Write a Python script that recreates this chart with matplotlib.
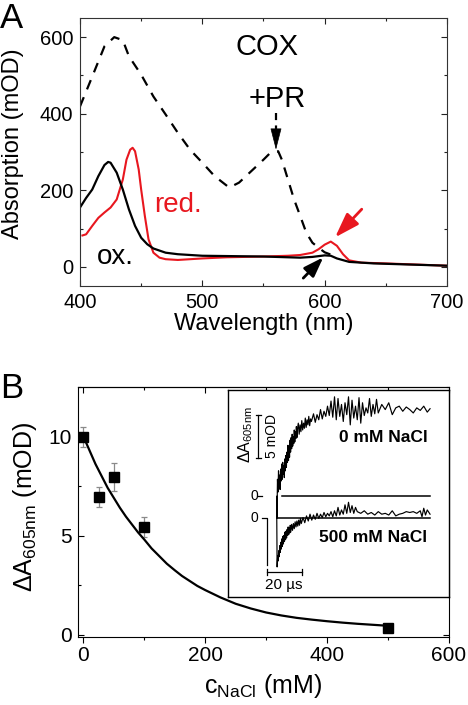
import matplotlib
matplotlib.use("Agg")
import matplotlib.pyplot as plt
from matplotlib.ticker import MultipleLocator

plt.rcParams['font.family'] = ['Liberation Sans', 'DejaVu Sans']
plt.rcParams['mathtext.fontset'] = 'custom'
plt.rcParams['mathtext.rm'] = 'Liberation Sans'
plt.rcParams['mathtext.it'] = 'Liberation Sans'
plt.rcParams['mathtext.bf'] = 'Liberation Sans:bold'

# ---------------- Panel A data ----------------
pr_wl = [400, 410, 420, 428, 435, 440, 450, 460, 470, 480, 490, 500, 510, 522, 530,
         540, 550, 555, 562, 565, 570, 575, 580, 585, 590, 595, 600, 605]
pr_abs = [419, 497, 576, 600, 592, 550, 502, 445, 398, 350, 306, 272, 237, 207, 220,
          250, 280, 296, 302, 280, 228, 176, 133, 89, 63, 50, 38, 32]

ox_wl = [400, 405, 410, 415, 420, 423, 425, 430, 435, 440, 445, 450, 455, 460, 470,
         480, 500, 550, 580, 590, 600, 605, 610, 620, 640, 660, 700]
ox_abs = [155, 180, 202, 237, 266, 274, 272, 246, 202, 150, 107, 76, 59, 48, 37,
          33, 29, 27, 24, 26, 30, 29, 22, 13, 9, 7, 3]

red_wl = [402, 405, 410, 415, 420, 425, 430, 435, 438, 441, 443, 445, 448, 450, 453,
          456, 460, 465, 470, 480, 500, 520, 550, 570, 580, 590, 595, 600, 605, 610,
          615, 620, 630, 650, 700]
red_abs = [82, 85, 107, 128, 142, 155, 176, 228, 280, 306, 311, 302, 254, 202, 133,
           72, 37, 24, 20, 18, 22, 25, 27, 29, 31, 37, 46, 58, 66, 55,
           33, 17, 11, 9, 3]

# ---------------- Panel B data ----------------
nacl = [0, 25, 50, 100, 500]
dA = [9.95, 6.95, 7.95, 5.45, 0.35]
dA_err = [0.5, 0.5, 0.7, 0.5, 0.0]

fit_x = [0, 10, 20, 30, 40, 50, 60, 70, 80, 90, 100, 112, 125, 137, 150, 162, 175,
         187, 200, 225, 250, 275, 300, 325, 350, 375, 400, 425, 450, 475, 500]
fit_y = [10.0, 9.3, 8.6, 8.0, 7.4, 6.9, 6.4, 5.95, 5.55, 5.15, 4.8, 4.35, 3.95,
         3.58, 3.25, 2.96, 2.7, 2.46, 2.25, 1.88, 1.56, 1.32, 1.12, 0.97, 0.85,
         0.76, 0.68, 0.61, 0.55, 0.5, 0.45]

# ---------------- Inset traces (µs, mOD) ----------------
t_0mM = [0.0, 0.1, 0.4, 0.7, 1.0, 1.3, 1.6, 1.9, 2.2, 2.5, 2.8, 3.1, 3.4, 3.7, 4.0,
         4.3, 4.6, 4.9, 5.2, 5.5, 5.8, 6.1, 6.4, 6.7, 7.0, 7.3, 7.6, 7.9, 8.2, 8.5,
         8.8, 9.1, 9.4, 9.7, 10.0, 10.3, 10.6, 10.9, 11.2, 11.5, 11.8, 12.3, 12.8,
         13.3, 13.8, 14.3, 14.8, 15.3, 15.8, 16.3, 16.8, 17.3, 17.8, 18.3, 18.8,
         19.3, 19.8, 21, 22, 23, 24, 25, 26, 27, 28, 29, 30, 31, 32, 33, 34, 35, 36,
         37, 38, 39, 40, 41, 42, 43, 44, 45, 46, 47, 48, 49, 50, 51, 52, 53, 54, 55,
         56, 57, 58, 60, 62, 64, 66, 68, 70, 72, 74, 76, 78, 80, 82, 84, 86, 87.6]
v_0mM = [0.0, -2.6, 2.0, 0.5, 3.0, 1.0, 2.5, 0.8, 3.2, 1.8, 3.8, 2.0, 4.0, 2.6, 3.6,
         2.2, 4.4, 3.0, 4.8, 3.4, 5.2, 4.0, 6.0, 4.2, 5.8, 4.6, 6.6, 5.2, 6.9, 5.6,
         7.3, 5.9, 7.0, 6.2, 7.8, 6.4, 7.6, 6.8, 8.2, 6.9, 7.9, 8.6, 7.3,
         8.4, 7.6, 8.9, 7.8, 8.6, 8.0, 9.2, 8.1, 9.0, 8.4, 9.4, 8.3,
         9.1, 8.8, 9.7, 8.7, 9.6, 9.0, 10.2, 9.1, 10.0, 9.4, 10.6, 9.5, 11.2, 9.3,
         11.7, 9.0, 11.5, 9.4, 10.8, 8.8, 11.0, 9.6, 11.7, 8.4, 11.3, 9.2, 10.6,
         9.0, 11.6, 8.6, 11.0, 9.5, 10.4, 9.8, 11.5, 9.4, 10.8, 9.7, 11.4, 9.8,
         10.8, 10.2, 11.0, 9.6, 10.4, 10.6, 10.0, 10.5, 10.2, 9.8, 10.4, 10.1, 10.6,
         9.9, 10.3]

t_500mM = [0.0, 0.2, 0.5, 0.8, 1.1, 1.4, 1.7, 2.0, 2.3, 2.6, 2.9, 3.2, 3.5, 3.8, 4.1,
           4.4, 4.7, 5.0, 5.3, 5.6, 5.9, 6.2, 6.5, 6.8, 7.1, 7.4, 7.7, 8.0, 8.5, 9.0,
           9.5, 10.0, 10.5, 11.0, 11.5, 12.0, 12.5, 13.0, 13.5, 14, 15, 16, 17, 18,
           19, 20, 21, 22, 23, 24, 25, 26, 27, 28, 29, 30, 31, 32, 33, 34, 35, 36,
           37, 38, 39, 40, 41, 42, 43, 44, 45, 46, 48, 50, 52, 54, 56, 58, 60, 62,
           64, 66, 68, 70, 72, 74, 76, 78, 80, 82, 83, 84, 85, 86, 87.6]
v_500mM = [0.0, -5.7, -4.4, -5.0, -3.8, -4.5, -3.2, -4.0, -2.8, -3.6, -2.4, -3.3,
           -2.1, -3.0, -2.0, -2.7, -1.6, -2.5, -1.5, -2.3, -1.3, -2.0, -1.0, -1.9,
           -1.1, -1.7, -0.8, -1.6, -0.7, -1.4, -0.6, -1.2, -0.4, -1.0, -0.3, -0.9,
           -0.2, -0.8, 0.0, -0.6, 0.1, -0.5, 0.3, -0.3, 0.5, -0.2, 0.4, -0.1, 0.6,
           0.0, 0.5, 0.1, 0.7, 0.2, 0.6, 0.3, 0.8, 0.2, 0.9, 0.3, 1.3, 0.4, 1.0,
           0.5, 1.6, 0.6, 1.9, 0.7, 1.5, 0.6, 1.3, 0.8, 0.6, 0.9, 0.5, 0.7, 0.4,
           0.8, 0.5, 0.6, 0.4, 0.9, 0.3, 0.5, 0.6, 0.8, 0.7, 0.8, 0.6, 0.9, 0.2,
           1.2, 0.4, 1.0, 0.5]
offset_0mM = 2.6  # vertical offset of the upper trace in the inset

RED = '#e8171f'

fig = plt.figure(figsize=(4.68, 7.05), dpi=100)

# ================= Panel A =================
ax1 = fig.add_axes([80 / 468, 1 - 286 / 705, 367 / 468, 268 / 705])
ax1.plot(pr_wl, pr_abs, color='black', lw=1.6, dashes=(4.5, 3.8))
ax1.plot(red_wl, red_abs, color=RED, lw=1.5)
ax1.plot(ox_wl, ox_abs, color='black', lw=1.6)
ax1.set_xlim(400, 700)
ax1.set_ylim(-50, 650)
ax1.xaxis.set_major_locator(MultipleLocator(100))
ax1.xaxis.set_minor_locator(MultipleLocator(50))
ax1.yaxis.set_major_locator(MultipleLocator(200))
ax1.yaxis.set_minor_locator(MultipleLocator(100))
ax1.tick_params(which='both', direction='in', top=True, right=True, width=0.8,
                labelsize=14.5, colors='#222222', labelcolor='black')
ax1.tick_params(which='major', length=4.5, pad=5)
ax1.tick_params(which='minor', length=2.5)
for s in ax1.spines.values():
    s.set_linewidth(0.8)
    s.set_color('#333333')
ax1.set_xlabel('Wavelength (nm)', fontsize=17)
ax1.set_ylabel('Absorption (mOD)', fontsize=17)
ax1.xaxis.set_label_coords(0.5, -0.100)
ax1.yaxis.set_label_coords(-0.152, 0.53)

ax1.text(552.6, 553, 'COX', fontsize=21, ha='center', va='baseline')
ax1.text(561.3, 417, '+PR', fontsize=21, ha='center', va='baseline')
ax1.text(479.8, 142, 'red.', fontsize=20, ha='center', va='baseline', color=RED)
ax1.text(428.6, 8, 'ox.', fontsize=20, ha='center', va='baseline')

# dashed arrow for +PR
ax1.plot([560.2, 560.2], [403, 358], color='black', lw=1.6, dashes=(3.2, 2.4))
ax1.annotate('', xy=(560.2, 306), xytext=(560.2, 358),
             arrowprops=dict(arrowstyle='-|>,head_length=1.4,head_width=0.36',
                             mutation_scale=10, color='black', lw=0.5,
                             shrinkA=0, shrinkB=0))
# red arrow
ax1.annotate('', xy=(608.5, 77), xytext=(630.3, 150.6),
             arrowprops=dict(arrowstyle='-|>,head_length=1.5,head_width=0.5',
                             mutation_scale=10, color=RED, lw=2.0,
                             shrinkA=0, shrinkB=0))
# black arrow
ax1.annotate('', xy=(598.9, 25), xytext=(582.5, -29.4),
             arrowprops=dict(arrowstyle='-|>,head_length=1.2,head_width=0.42',
                             mutation_scale=10, color='black', lw=2.0,
                             shrinkA=0, shrinkB=0))

fig.text(0.0, 1 - 28 / 705, 'A', fontsize=25, ha='left', va='baseline')

# ================= Panel B =================
ax2 = fig.add_axes([77.7 / 468, 1 - 636.7 / 705, 371.3 / 468, 250 / 705])
ax2.errorbar(nacl, dA, yerr=dA_err, fmt='none', ecolor='#8a8a8a', elinewidth=0.9,
             capsize=2.5, capthick=0.9, zorder=2)
ax2.plot(fit_x, fit_y, color='black', lw=1.6, zorder=3)
ax2.plot(nacl, dA, ls='none', marker='s', ms=6.8, color='black', zorder=4)
ax2.set_xlim(-9.2, 600)
ax2.set_ylim(-0.1, 12.5)
ax2.xaxis.set_major_locator(MultipleLocator(200))
ax2.xaxis.set_minor_locator(MultipleLocator(100))
ax2.yaxis.set_major_locator(MultipleLocator(5))
ax2.yaxis.set_minor_locator(MultipleLocator(2.5))
ax2.tick_params(axis='x', which='both', direction='out', top=False, width=0.8,
                labelsize=15, pad=2.5)
ax2.tick_params(axis='y', which='both', direction='in', right=True, width=0.8,
                labelsize=15, pad=4)
ax2.tick_params(which='major', length=4)
ax2.tick_params(which='minor', length=2.5)
sec = ax2.secondary_xaxis('top')
sec.xaxis.set_major_locator(MultipleLocator(200))
sec.xaxis.set_minor_locator(MultipleLocator(100))
sec.tick_params(which='both', direction='in', labeltop=False, width=0.8)
sec.tick_params(which='major', length=4)
sec.tick_params(which='minor', length=2.5)
sec.spines['top'].set_linewidth(0.8)
for s in ax2.spines.values():
    s.set_linewidth(0.8)
ax2.set_xlabel(r'c$_{\mathrm{NaCl}}$ (mM)', fontsize=18)
ax2.set_ylabel(r'$\Delta$A$_{\mathrm{605nm}}$ (mOD)', fontsize=18)
ax2.xaxis.set_label_coords(0.5, -0.14)
ax2.yaxis.set_label_coords(-0.105, 0.52)

fig.text(0.0, 1 - 398 / 705, 'B', fontsize=25, ha='left', va='baseline')

# ================= Inset =================
ax3 = fig.add_axes([228.3 / 468, 1 - 596.7 / 705, 221 / 468, 206.7 / 705])
ax3.set_xlim(-27.7, 98.6)
ax3.set_ylim(-9.2, 15.1)
ax3.set_xticks([])
ax3.set_yticks([])
for s in ax3.spines.values():
    s.set_linewidth(1.0)

# baselines
ax3.plot([2.9, 87.6], [offset_0mM, offset_0mM], color='black', lw=1.1)
ax3.plot([0.0, 87.6], [0, 0], color='black', lw=1.1)
# traces
ax3.plot(t_0mM, [v + offset_0mM for v in v_0mM], color='black', lw=0.85)
ax3.plot(t_500mM, v_500mM, color='black', lw=0.85)

# 5 mOD scale bar
ax3.plot([-10.5, -10.5], [7.15, 12.15], color='black', lw=0.9)
ax3.plot([-11.8, -9.2], [12.15, 12.15], color='black', lw=0.9)
ax3.plot([-11.8, -9.2], [7.15, 7.15], color='black', lw=0.9)
ax3.text(-18.0, 9.9, r'$\Delta$A$_{\mathrm{605nm}}$', rotation=90, fontsize=11.5,
         ha='center', va='center')
ax3.text(-2.9, 9.7, '5 mOD', rotation=90, fontsize=10, ha='center', va='center')

# zero marks
ax3.text(-13.0, offset_0mM, '0', fontsize=10, ha='center', va='center')
ax3.plot([-10.7, -8.6], [offset_0mM, offset_0mM], color='black', lw=0.9)
ax3.text(-13.0, 0, '0', fontsize=10, ha='center', va='center')
ax3.plot([-8.4, -5.7, -5.7], [0, 0, -5.5], color='black', lw=0.9)

# 20 µs time bar
ax3.plot([-5.7, 14.3], [-6.3, -6.3], color='black', lw=0.9)
ax3.plot([-5.7, -5.7], [-6.0, -6.6], color='black', lw=0.9)
ax3.plot([14.3, 14.3], [-6.0, -6.6], color='black', lw=0.9)
ax3.text(3.9, -7.85, '20 µs', fontsize=11, ha='center', va='center')

ax3.text(86.1, 9.0, '0 mM NaCl', fontsize=12.5, fontweight='bold', ha='right',
         va='baseline')
ax3.text(86.1, -2.8, '500 mM NaCl', fontsize=12.5, fontweight='bold', ha='right',
         va='baseline')

fig.savefig('out.png', dpi=100)
